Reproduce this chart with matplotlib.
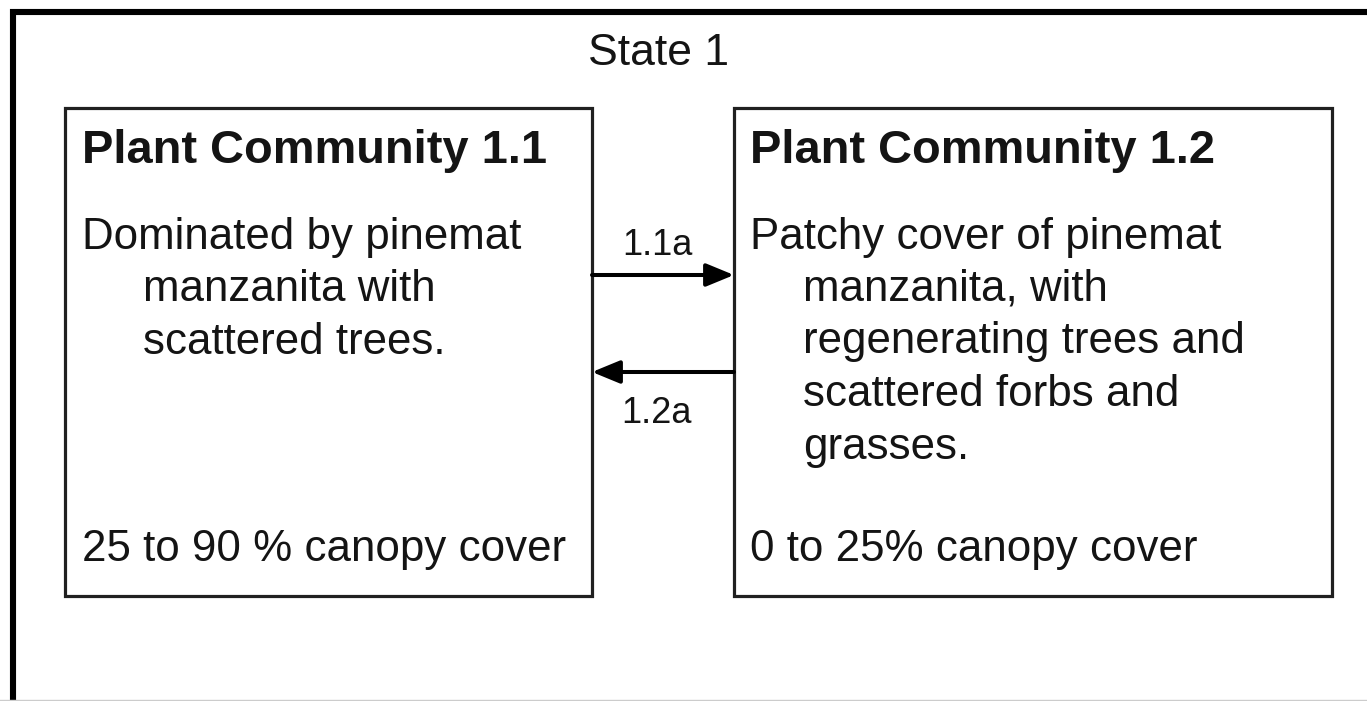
import matplotlib
matplotlib.use("Agg")
import matplotlib.pyplot as plt
from matplotlib.patches import Rectangle

# diagram texts
state_title = "State 1"
box_titles = ["Plant Community 1.1", "Plant Community 1.2"]
box_first_lines = ["Dominated by pinemat", "Patchy cover of pinemat"]
box_more_lines = [
    ["manzanita with", "scattered trees."],
    ["manzanita, with", "regenerating trees and", "scattered forbs and", "grasses."],
]
box_cover = ["25 to 90 % canopy cover", "0 to 25% canopy cover"]
transitions = ["1.1a", "1.2a"]

plt.rcParams['font.family'] = ['Liberation Sans', 'DejaVu Sans']
ink = '#141414'

fig = plt.figure(figsize=(13.67, 7.01), dpi=100)
ax = fig.add_axes([0, 0, 1, 1])
ax.set_xlim(0, 1367)
ax.set_ylim(701, 0)
ax.axis('off')

# outer state frame (open to the right and bottom)
ax.plot([13, 13, 1380], [720, 11.5, 11.5], color='black', lw=4.4,
        solid_joinstyle='miter', clip_on=False)
ax.plot([0, 1367], [700, 700], color='#cccccc', lw=1)
ax.text(658, 65, state_title, fontsize=32, color=ink, ha='center', va='baseline')

# the two community boxes
boxes = [(65, 108, 592, 596), (734, 108, 1332, 596)]
text_x = [82, 750]
indent_x = [143, 803]
body_size = 31.6
for i, (x0, y0, x1, y1) in enumerate(boxes):
    ax.add_patch(Rectangle((x0, y0), x1 - x0, y1 - y0, fill=False,
                           edgecolor='#202020', lw=2.3))
    ax.text(text_x[i], 163, box_titles[i], fontsize=33.8, fontweight='bold',
            color=ink, ha='left', va='baseline')
    ax.text(text_x[i], 249, box_first_lines[i], fontsize=body_size, color=ink,
            ha='left', va='baseline')
    for k, line in enumerate(box_more_lines[i]):
        ax.text(indent_x[i], 301 + k * 52.5, line, fontsize=body_size, color=ink,
                ha='left', va='baseline')
    ax.text(text_x[i], 561, box_cover[i], fontsize=body_size, color=ink,
            ha='left', va='baseline')

# transition arrows
arrow_style = dict(arrowstyle='-|>,head_length=1.7,head_width=0.7',
                   color='black', lw=2.9, shrinkA=0, shrinkB=0)
ax.annotate('', xy=(734, 275), xytext=(592, 275), arrowprops=arrow_style)
ax.annotate('', xy=(592, 372), xytext=(734, 372), arrowprops=arrow_style)
ax.text(657, 255, transitions[0], fontsize=26, color=ink, ha='center', va='baseline')
ax.text(657, 423, transitions[1], fontsize=26, color=ink, ha='center', va='baseline')

fig.savefig('out.png', dpi=100, facecolor='white')
